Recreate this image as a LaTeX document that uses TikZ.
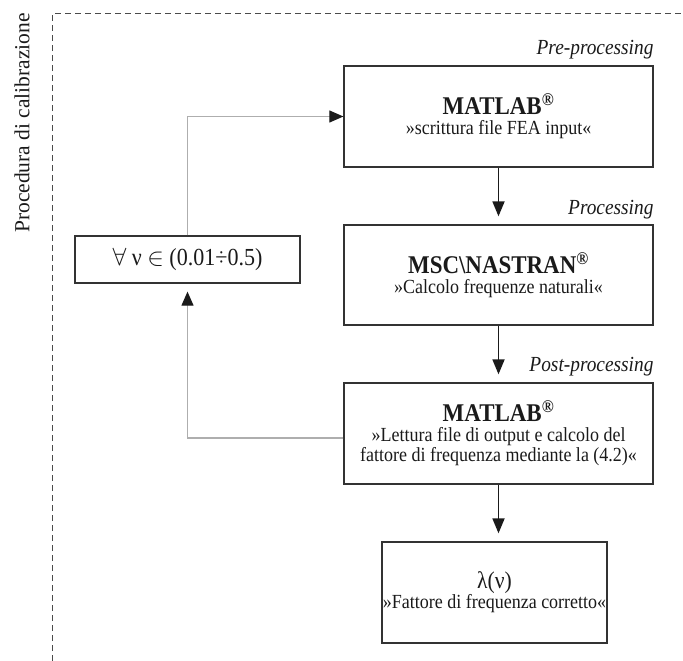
\documentclass[tikz,border=0pt]{standalone}
\usepackage{fontspec}
\setmainfont{Liberation Serif}[FakeStretch=0.9]
\newfontfamily\plainserif{Liberation Serif}
\usetikzlibrary{arrows.meta,calc}
\definecolor{boxcol}{HTML}{333333}
\definecolor{txtcol}{HTML}{1A1A1A}
\definecolor{fbcol}{HTML}{AEAEAE}
\definecolor{dashcol}{HTML}{4A4A4A}
\newcommand\boxtitle[1]{{\fontsize{25.5}{20}\selectfont\bfseries #1\textsuperscript{®}}}
\begin{document}
\begin{tikzpicture}[x=1pt,y=-1pt,
  box/.style={draw=boxcol, line width=1.3pt, inner sep=0pt, align=center, text=txtcol,
    font=\fontsize{20}{20}\selectfont},
  flow/.style={line width=1.8pt, draw=txtcol, -{Triangle[length=15pt,width=12pt]}, shorten >=8pt},
  fb/.style={draw=fbcol, line width=1.1pt, -{Triangle[length=14pt,width=12pt,color=txtcol]}},
  lbl/.style={font=\fontsize{21.5}{20}\selectfont\itshape, text=txtcol, inner sep=0pt},
  dashline/.style={draw=dashcol, line width=1pt, dash pattern=on 6pt off 4pt}
]
\useasboundingbox (0,0) rectangle (683,661);
\draw[dashline] (52,661) -- (52,14) -- (683,14);
\node[rotate=90, font=\plainserif\fontsize{21.5}{24}\selectfont, text=txtcol, inner sep=0pt] (side) at (22,123) {Procedura di calibrazione};

\node[box, minimum width=309, minimum height=101] (b1) at (498.5,116.5)
  {\boxtitle{MATLAB}\\»scrittura file FEA input«};
\node[box, minimum width=309, minimum height=100] (b2) at (498.5,275)
  {\boxtitle{MSC\textbackslash NASTRAN}\\»Calcolo frequenze naturali«};
\node[box, minimum width=309, minimum height=101] (b3) at (498.5,433.5)
  {\boxtitle{MATLAB}\\»Lettura file di output e calcolo del\\fattore di frequenza mediante la (4.2)«};
\node[box, minimum width=225, minimum height=101] (b4) at (494.5,592.5)
  {{\fontsize{24}{20}\selectfont λ(ν)}\\»Fattore di frequenza corretto«};
\node[box, minimum width=225, minimum height=47] (lb) at (187.5,259.5)
  {{\fontsize{24.5}{24}\selectfont $\forall$ ν $\in$ (0.01÷0.5)}};

\node[lbl, anchor=base east] (l1) at ($(b1.north east)+(0,-11)$) {Pre-processing};
\node[lbl, anchor=base east] (l2) at ($(b2.north east)+(0,-10)$) {Processing};
\node[lbl, anchor=base east] (l3) at ($(b3.north east)+(0,-11)$) {Post-processing};

\draw[flow] (b1.south) -- (b2.north);
\draw[flow] (b2.south) -- (b3.north);
\draw[flow] (b3.south) -- (b3.south |- b4.north);

\coordinate (fbstart) at ($(b3.west)+(0,4.5)$);
\draw[fb, shorten >=8pt] (fbstart) -| (lb.south);
\draw[fb] (lb.north) |- (b1.west);
\end{tikzpicture}
\end{document}
